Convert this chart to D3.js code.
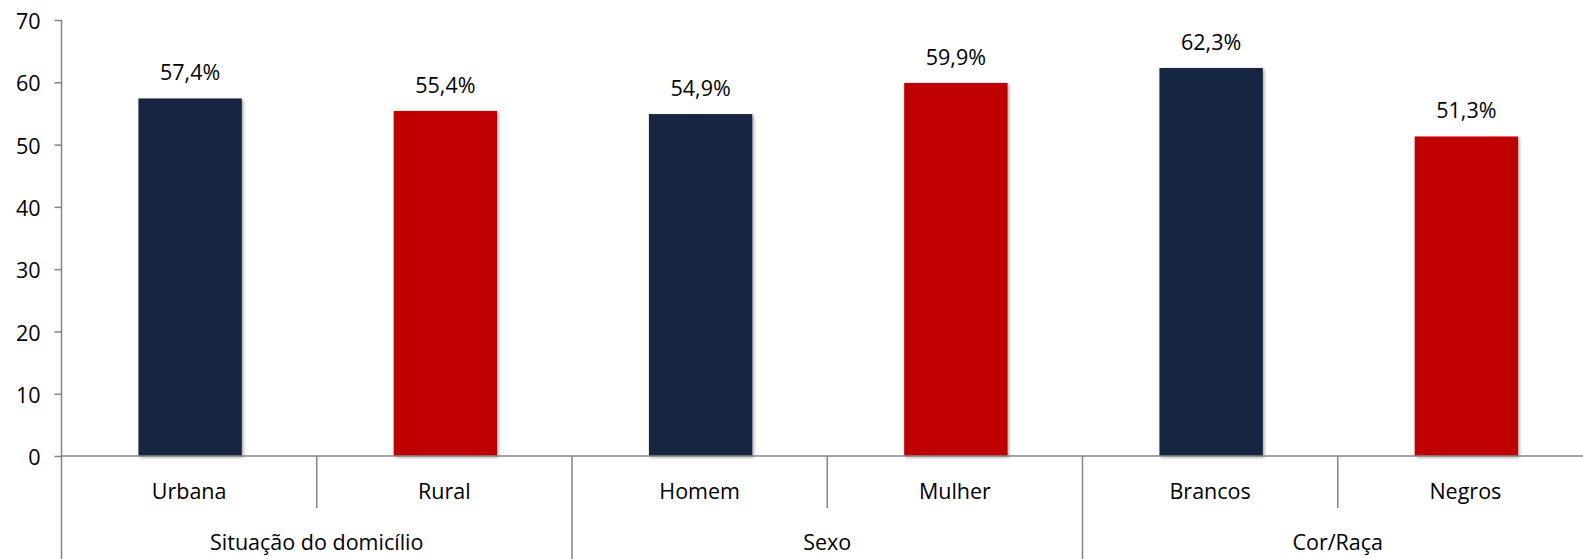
<!DOCTYPE html>
<html><head><meta charset="utf-8">
<script src="https://cdn.jsdelivr.net/npm/d3@7"></script>
<style>body{margin:0;background:#fff}svg{display:block}text{font-family:"Open Sans",sans-serif;fill:#000}</style>
</head><body><div id="chart"></div>
<script>
const categories = ["Urbana","Rural","Homem","Mulher","Brancos","Negros"];
const groups = ["Situação do domicílio","Situação do domicílio","Sexo","Sexo","Cor/Raça","Cor/Raça"];
const values = [57.4,55.4,54.9,59.9,62.3,51.3];
const labels = ["57,4%","55,4%","54,9%","59,9%","62,3%","51,3%"];
const barColors = ["#13263F","#C00000","#13263F","#C00000","#13263F","#C00000"];
const yTicks = [0,10,20,30,40,50,60,70];

const W=1583,H=559, FS=21.5;
const svg=d3.select("#chart").append("svg").attr("width",W).attr("height",H);
const defs=svg.append("defs");
const f=defs.append("filter").attr("id","sh").attr("x","-20%").attr("y","-20%").attr("width","140%").attr("height","140%");
f.append("feDropShadow").attr("dx",1.5).attr("dy",1.5).attr("stdDeviation",1.5).attr("flood-color","#000").attr("flood-opacity",0.35);

const x0=61.5,x1=1593;
const x=d3.scaleBand().domain(categories).range([x0,x1]).paddingInner(0).paddingOuter(0);
const y=d3.scaleLinear().domain([0,70]).range([456,20]);

// bars
const bw=x.bandwidth()*0.405;
svg.selectAll("rect.bar").data(categories).join("rect")
 .attr("x",(d)=>x(d)+x.bandwidth()/2-bw/2+1)
 .attr("y",(d,i)=>y(values[i]))
 .attr("width",bw)
 .attr("height",(d,i)=>y(0)-y(values[i]))
 .attr("fill",(d,i)=>barColors[i])
 .attr("filter","url(#sh)");

// data labels
svg.selectAll("text.lab").data(categories).join("text")
 .attr("x",(d)=>x(d)+x.bandwidth()/2+1)
 .attr("y",(d,i)=>y(values[i])-18)
 .attr("text-anchor","middle").attr("font-size",FS).text((d,i)=>labels[i]);

// y axis
const yAxis=d3.axisLeft(y).tickValues(yTicks).tickSize(7).tickPadding(14).tickFormat(d3.format("d"));
const ga=svg.append("g").attr("transform",`translate(${x0},0)`).call(yAxis);
ga.select(".domain").attr("stroke","#868686").attr("stroke-width",1.5).attr("d",`M0,${y(70)}V${H}`);
ga.selectAll(".tick line").attr("stroke","#868686").attr("stroke-width",1.5);
ga.selectAll(".tick text").attr("font-size",FS).attr("font-family","Open Sans").attr("fill","#000").attr("dy","0.4em");

// x axis line
svg.append("line").attr("x1",x0).attr("x2",x1).attr("y1",y(0)).attr("y2",y(0)).attr("stroke","#868686").attr("stroke-width",1.5);

// category labels
svg.selectAll("text.cat").data(categories).join("text")
 .attr("x",(d)=>x(d)+x.bandwidth()/2).attr("y",499)
 .attr("text-anchor","middle").attr("font-size",FS).text(d=>d);

// separators
categories.forEach((d,i)=>{
  if(i===0) return;
  const isGroupStart = groups[i]!==groups[i-1];
  svg.append("line").attr("x1",x(d)).attr("x2",x(d)).attr("y1",y(0)).attr("y2",isGroupStart?H:508)
   .attr("stroke","#868686").attr("stroke-width",1.5);
});

// group labels
const uniqueGroups=[...new Set(groups)];
uniqueGroups.forEach(g=>{
  const idx=groups.map((v,i)=>v===g?i:-1).filter(i=>i>=0);
  const a=x(categories[idx[0]]), b=x(categories[idx[idx.length-1]])+x.bandwidth();
  svg.append("text").attr("x",(a+b)/2).attr("y",550).attr("text-anchor","middle").attr("font-size",FS).text(g);
});
</script></body></html>
